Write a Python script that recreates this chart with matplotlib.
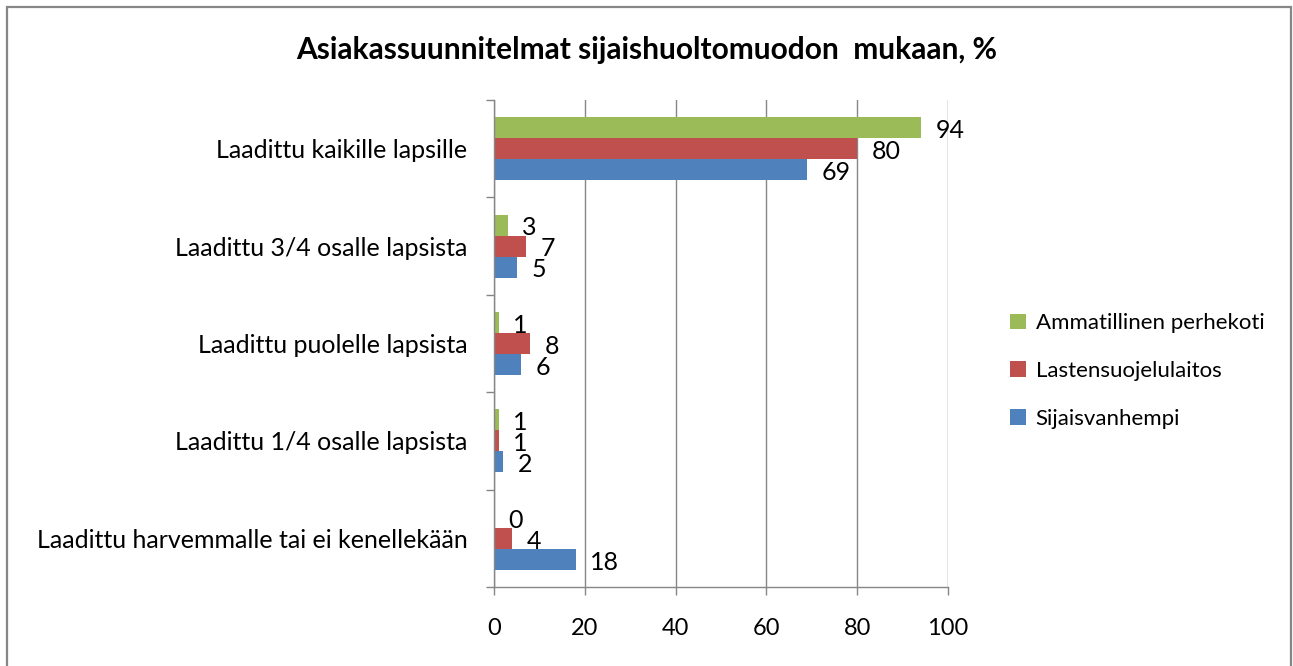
import matplotlib
matplotlib.use("Agg")
import matplotlib.pyplot as plt
from matplotlib.patches import Rectangle, Patch
import numpy as np

categories = ["Laadittu kaikille lapsille", "Laadittu 3/4 osalle lapsista",
              "Laadittu puolelle lapsista", "Laadittu 1/4 osalle lapsista",
              "Laadittu harvemmalle tai ei kenellekään"]
series_names = ["Ammatillinen perhekoti", "Lastensuojelulaitos", "Sijaisvanhempi"]
ammatillinen = [94, 3, 1, 1, 0]
lastensuojelu = [80, 7, 8, 1, 4]
sijaisvanhempi = [69, 5, 6, 2, 18]
x_ticks = [0, 20, 40, 60, 80, 100]
title = "Asiakassuunnitelmat sijaishuoltomuodon  mukaan, %"

colors = ["#9BBB59", "#C0504D", "#4F81BD"]
series = [ammatillinen, lastensuojelu, sijaisvanhempi]

plt.rcParams['font.family'] = ['Lato', 'DejaVu Sans']

W, H = 1293, 666
fig = plt.figure(figsize=(W / 100, H / 100), dpi=100)
ax = fig.add_axes([494 / W, 79 / H, (948 - 494) / W, (587 - 100) / H])

y = np.arange(len(categories))
bh = 0.216
offsets = [-bh, 0, bh]
for vals, off, col in zip(series, offsets, colors):
    ax.barh(y + off, vals, height=bh, color=col, edgecolor='none', zorder=3)
    for yy, v in zip(y + off, vals):
        ax.annotate(str(v), xy=(v, yy), xytext=(10.5, -2), textcoords='offset points',
                    ha='left', va='center', fontsize=18, color='#000000', zorder=4)

ax.set_xlim(0, 100)
ax.set_ylim(len(categories) - 0.5, -0.5)
ax.set_xticks(x_ticks)
ax.set_xticklabels([str(t) for t in x_ticks], fontsize=17)
ax.tick_params(axis='x', direction='out', length=6, width=1, color='#868686', pad=16)

ax.set_yticks(y)
ax.set_yticklabels(categories, fontsize=18)
ax.tick_params(axis='y', which='major', length=0, pad=19)
ax.set_yticks(np.arange(len(categories) + 1) - 0.5, minor=True)
ax.tick_params(axis='y', which='minor', direction='out', length=6, width=1, color='#868686')

ax.grid(axis='x', color='#868686', linewidth=1, zorder=0)
for s in ['top', 'right']:
    ax.spines[s].set_visible(False)
for s in ['left', 'bottom']:
    ax.spines[s].set_color('#868686')
    ax.spines[s].set_linewidth(1)
    ax.spines[s].set_zorder(5)

handles = [Patch(facecolor=c, edgecolor='none') for c in colors]
fig.legend(handles, series_names, loc='center left', bbox_to_anchor=(990 / W, (666 - 371) / H),
           frameon=False, fontsize=16, handlelength=0.7, handleheight=0.7,
           handletextpad=0.45, labelspacing=1.25)

fig.text(647 / W, (666 - 50) / H, title, ha='center', va='center',
         fontsize=21.5, fontweight='bold')

fig.patches.append(Rectangle((7 / W, -0.05), (1291 - 7) / W, (666 - 7) / H + 0.05,
                             transform=fig.transFigure, fill=False,
                             edgecolor='#868686', linewidth=1.6))

fig.savefig("out.png", dpi=100)
